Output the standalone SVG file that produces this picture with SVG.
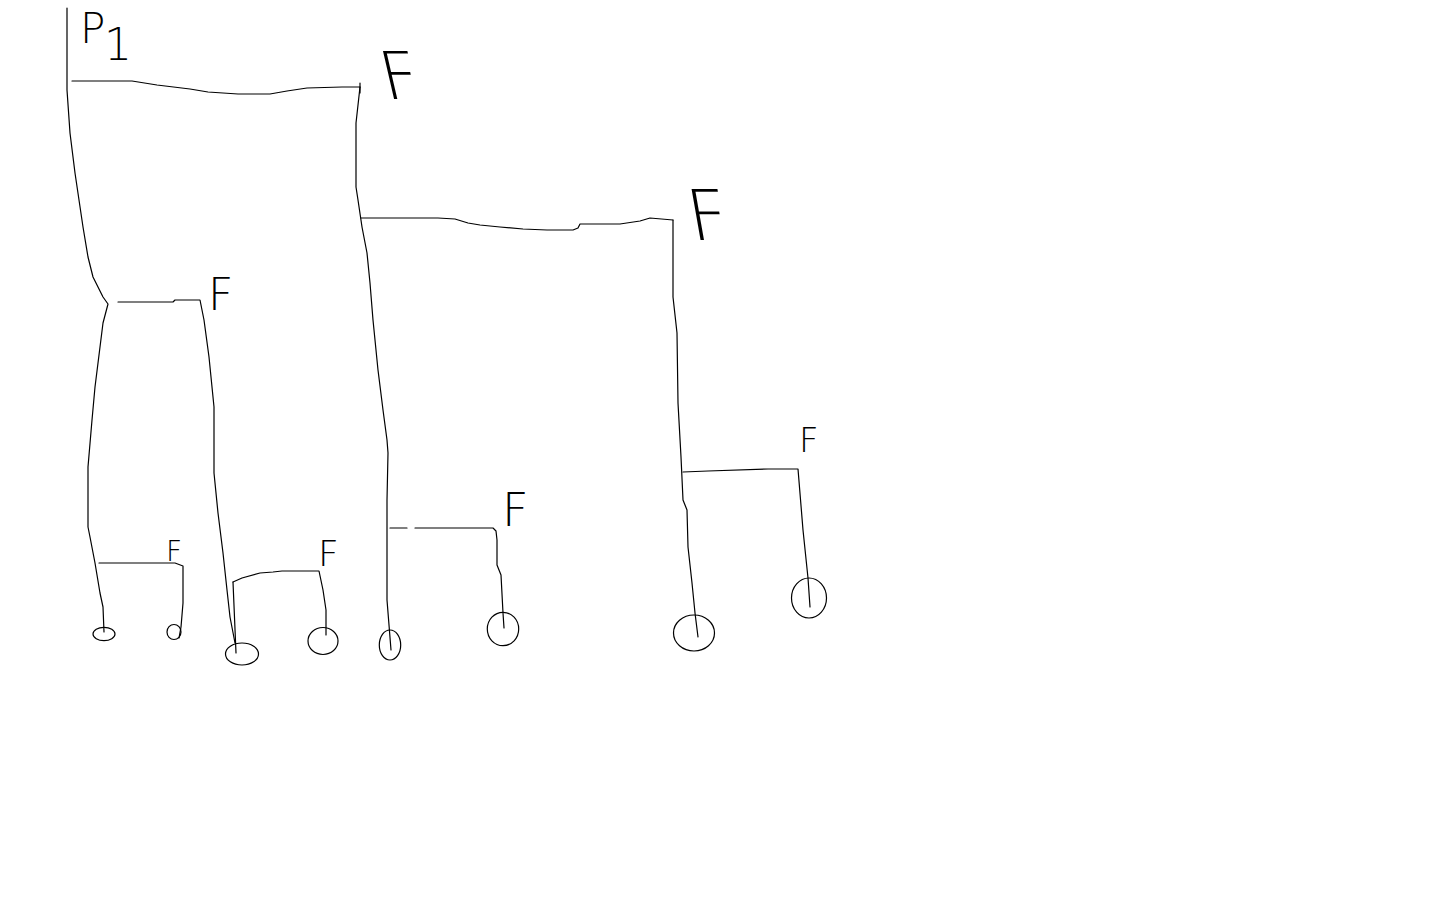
<svg xmlns="http://www.w3.org/2000/svg" width="1440" height="900" viewBox="0 0 1440 900">
<style>
.c{fill:none;stroke:#000;stroke-width:1.2;stroke-linejoin:round;stroke-linecap:round}
.leaf{fill:none;stroke:#000;stroke-width:1.2}
.lbl{font-family:"DejaVu Sans","Liberation Sans",sans-serif;font-weight:200;fill:#000}
</style>
<rect width="1440" height="900" fill="#fff"/>
<g id="connectors">
<path class="c" d="M67,8 L67,90 L70,133 L75,173 L83,227 L88,257 L93,277 L103,297 L108,304 L103,323 L95,387 L92,420 L88,467 L88,527 L90,537 L95,563 L100,593 L103,607 L104,632"/>
<path class="c" d="M72,81 L132,81 L157,85 L190,89 L208,92 L238,94 L270,94 L287,91 L307,88 L342,87 L360,87"/>
<path class="c" d="M360,83 L360,93"/>
<path class="c" d="M360,87 L356,123 L356,187 L358,200 L362,227 L367,253 L370,283 L373,320 L378,370 L383,410 L387,440 L388,453 L387,500 L387,600 L391,650"/>
<path class="c" d="M361,218 L438,218 L455,219 L468,223 L480,225 L500,227 L523,229 L547,230 L573,230 L578,228 L580,224 L620,224 L640,221 L650,218 L673,220"/>
<path class="c" d="M673,220 L673,297 L677,333 L678,403 L681,457 L683,500 L687,510 L688,547 L692,583 L695,613 L698,637"/>
<path class="c" d="M683,472 L708,471 L768,469 L798,469 L803,530 L808,578 L810,607"/>
<path class="c" d="M390,528 L407,528"/>
<path class="c" d="M415,528 L493,528 L496,531 L497,540 L497,565 L501,575 L503,613 L504,628"/>
<path class="c" d="M118,302 L173,302 L175,300 L200,300 L204,320 L209,357 L214,407 L214,473 L218,513 L223,553 L227,590 L230,617 L235,643"/>
<path class="c" d="M99,563 L175,563 L183,566 L183,603 L181,627 L179,638"/>
<path class="c" d="M233,582 L242,578 L260,573 L273,572 L282,571 L319,571 L323,590 L326,610 L326,635"/>
<path class="c" d="M233,582 L236,653"/>
</g>
<g id="root"><text class="lbl" x="80" y="43" font-size="42">P</text><text class="lbl" x="104" y="60" font-size="44">1</text></g>
<g id="n1"><text class="lbl" transform="translate(386,99) skewX(13)" font-size="66">F</text></g>
<g id="n2"><text class="lbl" transform="translate(692,240) skewX(10)" font-size="70">F</text></g>
<g id="n3"><text class="lbl" x="208" y="310" font-size="44">F</text></g>
<g id="n4"><text class="lbl" x="166" y="561" font-size="28">F</text></g>
<g id="n5"><text class="lbl" x="318" y="566" font-size="36">F</text></g>
<g id="n6"><text class="lbl" x="502" y="526" font-size="46">F</text></g>
<g id="n7"><text class="lbl" x="799" y="452" font-size="34">F</text></g>
<g id="leaf1"><ellipse class="leaf" cx="104" cy="634" rx="11" ry="6.7"/></g>
<g id="leaf2"><ellipse class="leaf" cx="174" cy="632" rx="7" ry="7.5"/></g>
<g id="leaf3"><ellipse class="leaf" cx="242" cy="654" rx="16.5" ry="11"/></g>
<g id="leaf4"><ellipse class="leaf" cx="323" cy="641" rx="15" ry="13.5"/></g>
<g id="leaf5"><ellipse class="leaf" cx="390" cy="645" rx="10.7" ry="15"/></g>
<g id="leaf6"><ellipse class="leaf" cx="503" cy="629" rx="15.7" ry="16.7"/></g>
<g id="leaf7"><ellipse class="leaf" cx="694" cy="633" rx="20.5" ry="18"/></g>
<g id="leaf8"><ellipse class="leaf" cx="809" cy="598" rx="17.5" ry="20"/></g>
</svg>
